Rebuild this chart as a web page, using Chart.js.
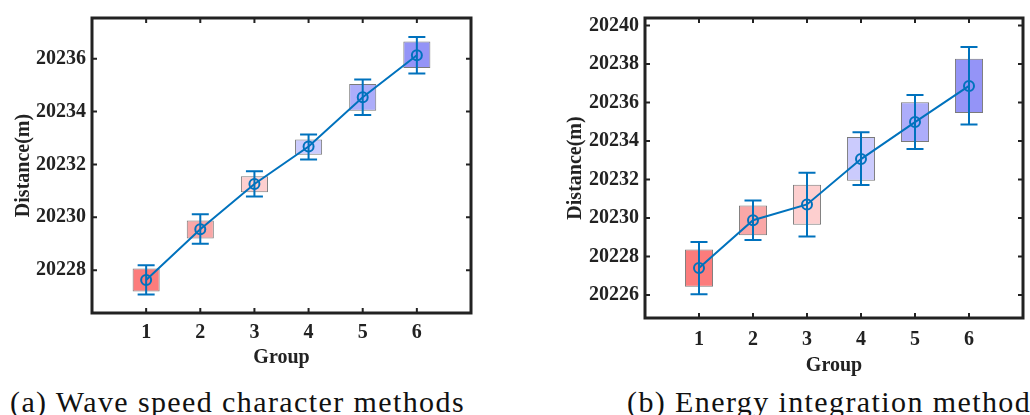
<!DOCTYPE html>
<html>
<head>
<meta charset="utf-8">
<script src="https://cdn.jsdelivr.net/npm/chart.js@4.4.0/dist/chart.umd.min.js"></script>
<style>
  body { margin: 0; width: 1030px; height: 415px; overflow: hidden; background: #fff; position: relative; font-family: 'Liberation Serif', serif; }
  .wrap { position: absolute; top: 0; }
  .cap { position: absolute; top: 387px; font-size: 30px; line-height: 30px; letter-spacing: 1.4px; white-space: nowrap; color: #111; }
</style>
</head>
<body>
<div class="wrap" style="left:0;width:500px;height:375px"><canvas id="chartA"></canvas></div>
<div class="wrap" style="left:540px;width:490px;height:378px"><canvas id="chartB"></canvas></div>
<div class="cap" style="left:10px">(a) Wave speed character methods</div>
<div class="cap" style="left:627px">(b) Energy integration method</div>
<script>
// groups and box colours (red -> blue)
const groups = [1, 2, 3, 4, 5, 6];
const boxColors = ['#fc7c7c', '#f9a7a7', '#fdcfcf', '#cbcbfd', '#adadfa', '#9494f7'];

// (a) wave speed character methods
const meanA = [20227.63, 20229.55, 20231.26, 20232.68, 20234.54, 20236.13];
const boxLowA = [20227.19, 20229.20, 20230.95, 20232.37, 20234.03, 20235.65];
const boxHighA = [20228.06, 20229.88, 20231.55, 20232.94, 20235.04, 20236.65];
const errLowA = [20227.08, 20229.00, 20230.79, 20232.19, 20233.87, 20235.44];
const errHighA = [20228.19, 20230.12, 20231.74, 20233.13, 20235.21, 20236.82];
const yTicksA = [20228, 20230, 20232, 20234, 20236];

// (b) energy integration method
const meanB = [20227.40, 20229.88, 20230.70, 20233.06, 20234.98, 20236.86];
const boxLowB = [20226.43, 20229.10, 20229.64, 20231.93, 20233.94, 20235.45];
const boxHighB = [20228.36, 20230.65, 20231.73, 20234.21, 20236.01, 20238.27];
const errLowB = [20226.03, 20228.85, 20229.03, 20231.71, 20233.58, 20234.85];
const errHighB = [20228.75, 20230.91, 20232.35, 20234.45, 20236.39, 20238.88];
const yTicksB = [20226, 20228, 20230, 20232, 20234, 20236, 20238, 20240];

const xTicks = [1, 2, 3, 4, 5, 6];
const lineBlue = '#0072bd';
const axisColor = '#222';

// error bars, frame and inward tick marks
const framePlugin = {
    id: 'frame',
    afterDatasetsDraw(chart, args, opts) {
        const ctx = chart.ctx;
        const xs = chart.scales.x, ys = chart.scales.y;
        ctx.save();
        ctx.strokeStyle = lineBlue;
        ctx.lineWidth = 2;
        groups.forEach((g, i) => {
            const px = xs.getPixelForValue(g);
            const top = ys.getPixelForValue(opts.errHigh[i]);
            const bot = ys.getPixelForValue(opts.errLow[i]);
            ctx.beginPath();
            ctx.moveTo(px, top); ctx.lineTo(px, bot);
            ctx.moveTo(px - 8.5, top); ctx.lineTo(px + 8.5, top);
            ctx.moveTo(px - 8.5, bot); ctx.lineTo(px + 8.5, bot);
            ctx.stroke();
        });
        ctx.restore();
    },
    afterDraw(chart) {
        const ctx = chart.ctx;
        const a = chart.chartArea;
        const xs = chart.scales.x, ys = chart.scales.y;
        ctx.save();
        ctx.strokeStyle = axisColor;
        ctx.lineWidth = 3;
        ctx.strokeRect(a.left, a.top, a.right - a.left, a.bottom - a.top);
        ctx.lineWidth = 2;
        ctx.beginPath();
        xs.ticks.forEach(t => {
            const px = xs.getPixelForValue(t.value);
            ctx.moveTo(px, a.bottom); ctx.lineTo(px, a.bottom - 5);
            ctx.moveTo(px, a.top); ctx.lineTo(px, a.top + 5);
        });
        ys.ticks.forEach(t => {
            const py = ys.getPixelForValue(t.value);
            ctx.moveTo(a.left, py); ctx.lineTo(a.left + 5, py);
            ctx.moveTo(a.right, py); ctx.lineTo(a.right - 5, py);
        });
        ctx.stroke();
        ctx.restore();
    }
};

function makeChart(id, s) {
    const font = { family: 'Liberation Serif', size: 20, weight: 'bold' };
    return new Chart(document.getElementById(id), {
        data: {
            datasets: [
                {
                    type: 'line',
                    data: groups.map((g, i) => ({ x: g, y: s.mean[i] })),
                    borderColor: lineBlue,
                    borderWidth: 2,
                    pointStyle: 'circle',
                    pointRadius: 5,
                    pointBorderWidth: 2,
                    pointBorderColor: lineBlue,
                    pointBackgroundColor: 'rgba(0,0,0,0)',
                    order: 0
                },
                {
                    type: 'bar',
                    data: groups.map((g, i) => ({ x: g, y: [s.boxLow[i], s.boxHigh[i]] })),
                    backgroundColor: boxColors,
                    borderColor: '#7a7a7a',
                    borderWidth: 1,
                    borderSkipped: false,
                    categoryPercentage: 1,
                    barPercentage: s.barPct,
                    grouped: false,
                    order: 1
                }
            ]
        },
        options: {
            responsive: true,
            maintainAspectRatio: false,
            animation: false,
            events: [],
            layout: { padding: { top: s.padTop, right: s.padRight, left: 0, bottom: 0 } },
            plugins: {
                legend: { display: false },
                tooltip: { enabled: false },
                frame: { errLow: s.errLow, errHigh: s.errHigh }
            },
            scales: {
                x: {
                    type: 'linear',
                    min: 0,
                    max: 7,
                    offset: false,
                    grid: { display: false, drawTicks: false },
                    border: { display: false },
                    afterBuildTicks: sc => { sc.ticks = xTicks.map(v => ({ value: v })); },
                    afterFit: sc => { sc.height = s.xHeight; },
                    ticks: { color: axisColor, font: font, padding: s.xTickPad, maxRotation: 0 },
                    title: { display: true, text: 'Group', color: axisColor, font: font, padding: { top: 0, bottom: s.xTitlePad } }
                },
                y: {
                    type: 'linear',
                    min: s.yMin,
                    max: s.yMax,
                    grid: { display: false, drawTicks: false },
                    border: { display: false },
                    afterBuildTicks: sc => { sc.ticks = s.yTicks.map(v => ({ value: v })); },
                    afterFit: sc => { sc.width = s.yWidth; },
                    ticks: { color: axisColor, font: font, padding: 6, callback: v => String(v) },
                    title: { display: true, text: 'Distance(m)', color: axisColor, font: font, padding: { top: s.yTitlePad, bottom: 0 } }
                }
            }
        },
        plugins: [framePlugin]
    });
}

makeChart('chartA', {
    mean: meanA, boxLow: boxLowA, boxHigh: boxHighA, errLow: errLowA, errHigh: errHighA,
    yTicks: yTicksA, yMin: 20226.38, yMax: 20237.54,
    padTop: 13, padRight: 29, xHeight: 62, yWidth: 92, xTickPad: 8, xTitlePad: 5, yTitlePad: 12, barPct: 0.5
});

makeChart('chartB', {
    mean: meanB, boxLow: boxLowB, boxHigh: boxHighB, errLow: errLowB, errHigh: errHighB,
    yTicks: yTicksB, yMin: 20224.8, yMax: 20240.39,
    padTop: 14, padRight: 2, xHeight: 60, yWidth: 105, xTickPad: 10, xTitlePad: 0, yTitlePad: 24, barPct: 0.52
});
</script>
</body>
</html>
